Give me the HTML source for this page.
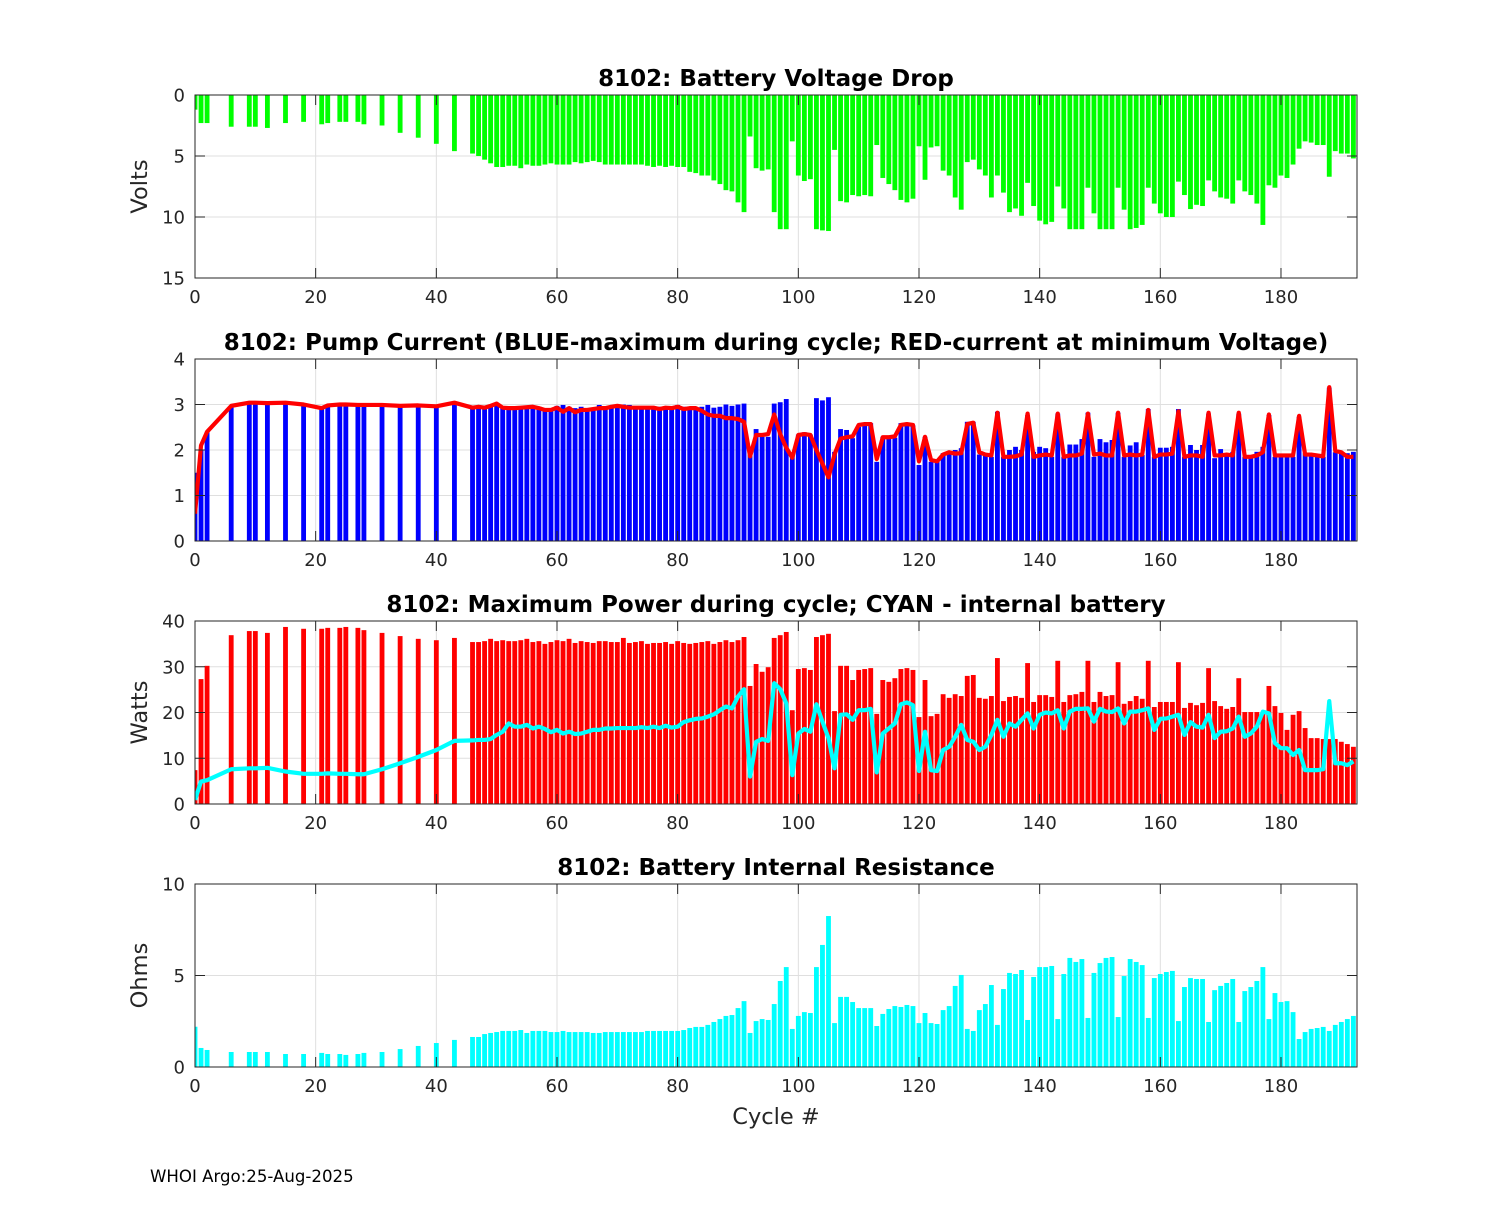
<!DOCTYPE html>
<html><head><meta charset="utf-8"><style>
body{margin:0;background:#fff}
svg text{font-family:"DejaVu Sans","Liberation Sans",sans-serif;fill:#262626}
</style></head><body>
<svg id="fig" width="1500" height="1200" xmlns="http://www.w3.org/2000/svg">
<rect width="1500" height="1200" fill="#fff"/>
<text x="150" y="1182" font-size="16.6" style="fill:#000">WHOI Argo:25-Aug-2025</text>
<text x="776" y="1124" font-size="22.5" text-anchor="middle">Cycle #</text>
</svg>
<script>
const cycles=[0,1,2,6,9,10,12,15,18,21,22,24,25,27,28,31,34,37,40,43,
46,47,48,49,50,51,52,53,54,55,56,57,58,59,60,61,62,63,64,65,66,67,68,69,70,71,72,73,74,75,76,77,78,79,80,81,82,83,84,85,86,87,88,89,90,91,
92,93,94,95,96,97,98,99,100,101,102,103,104,105,106,107,108,109,110,111,112,113,114,115,116,117,118,119,120,121,122,123,124,125,126,127,128,129,130,131,
132,133,134,135,136,137,138,139,140,141,142,143,144,145,146,147,148,149,150,151,152,153,154,155,156,157,158,159,160,161,162,163,164,165,166,167,168,169,170,171,
172,173,174,175,176,177,178,179,180,181,182,183,184,185,186,187,188,189,190,191,192];
const voltDrop=[1.2,2.3,2.3,2.6,2.6,2.6,2.7,2.3,2.2,2.4,2.3,2.2,2.2,2.2,2.4,2.5,3.1,3.5,4.0,4.6,
4.8,5.0,5.3,5.6,5.9,5.9,5.8,5.8,6.0,5.7,5.8,5.8,5.7,5.6,5.7,5.7,5.7,5.5,5.6,5.5,5.4,5.5,5.7,5.7,5.7,5.7,5.7,5.7,5.7,5.8,5.9,5.8,5.9,5.8,5.9,5.9,6.3,6.4,6.6,6.6,7.0,7.3,7.8,7.9,8.8,9.6,
3.4,6.0,6.2,6.1,9.6,11.0,11.0,3.8,6.6,7.05,6.9,11.0,11.1,11.15,4.5,8.7,8.8,8.2,8.3,8.2,8.3,4.1,6.8,7.3,7.8,8.6,8.8,8.5,4.2,6.95,4.3,4.2,6.2,6.6,8.4,9.4,5.5,5.3,6.1,6.6,
8.4,6.6,8.0,9.6,9.3,9.9,7.2,9.1,10.3,10.6,10.4,7.5,9.3,11.0,11.0,11.0,7.6,9.7,11.0,11.0,11.0,7.6,9.4,11.0,10.9,10.65,7.6,8.9,9.7,10.0,10.0,7.1,8.2,9.35,9.0,9.1,7.0,7.9,8.4,8.5,
8.9,7.0,7.9,8.2,8.9,10.65,7.4,7.6,6.6,6.8,5.7,4.4,3.8,3.9,4.1,4.1,6.7,4.6,4.8,4.8,5.2];
const maxCurrent=[1.5,2.0,2.4,2.95,3.06,3.06,3.03,3.05,3.0,2.92,2.99,3.0,2.99,3.0,3.0,3.0,2.98,2.98,2.95,3.03,
2.93,2.93,2.9,2.97,2.99,2.95,2.95,2.95,2.95,2.95,2.97,2.95,2.92,2.88,2.97,2.99,2.95,2.92,2.95,2.92,2.92,2.99,2.95,2.95,2.95,3.0,2.99,2.95,2.95,2.95,2.92,2.95,2.92,2.92,2.99,2.95,2.92,2.93,2.95,2.99,2.93,2.95,3.0,2.97,3.0,3.02,
1.9,2.46,2.29,2.29,3.02,3.05,3.12,1.9,2.34,2.39,2.34,3.14,3.09,3.16,1.96,2.46,2.44,2.26,2.51,2.55,2.59,1.74,2.29,2.27,2.27,2.59,2.55,2.54,1.67,2.29,1.74,1.74,1.93,1.96,2.0,2.04,2.62,2.62,1.9,1.89,
1.85,2.84,1.85,2.0,2.07,2.0,2.77,1.96,2.07,2.04,1.85,2.8,1.85,2.12,2.12,2.24,2.82,1.85,2.24,2.17,2.22,2.82,1.85,2.1,2.17,1.89,2.9,1.85,2.05,2.05,2.07,2.9,1.85,2.11,2.0,2.11,2.8,1.82,2.02,1.93,
1.96,2.8,1.85,1.89,1.96,2.07,2.77,1.85,1.85,1.85,1.85,2.73,1.93,1.89,1.9,1.85,3.37,1.95,1.95,1.93,1.96];
const minVCurrent=[0.6,2.1,2.4,2.97,3.04,3.04,3.03,3.04,3.0,2.92,2.98,3.0,3.0,2.99,2.99,2.99,2.97,2.98,2.96,3.04,
2.93,2.95,2.93,2.97,3.02,2.93,2.92,2.92,2.93,2.94,2.95,2.92,2.88,2.88,2.93,2.84,2.92,2.83,2.88,2.88,2.9,2.92,2.92,2.95,2.97,2.95,2.93,2.93,2.93,2.93,2.93,2.9,2.93,2.92,2.95,2.9,2.92,2.92,2.86,2.78,2.75,2.75,2.7,2.7,2.68,2.62,
1.86,2.33,2.33,2.35,2.78,2.35,2.05,1.83,2.33,2.35,2.33,2.0,1.7,1.4,1.9,2.25,2.28,2.3,2.55,2.57,2.57,1.8,2.28,2.28,2.3,2.55,2.57,2.55,1.75,2.29,1.78,1.75,1.9,1.95,1.92,1.93,2.57,2.6,1.95,1.9,
1.88,2.82,1.85,1.85,1.86,1.9,2.8,1.85,1.88,1.9,1.88,2.8,1.85,1.88,1.88,1.92,2.8,1.9,1.92,1.88,1.88,2.82,1.88,1.9,1.88,1.9,2.88,1.85,1.9,1.9,1.92,2.85,1.85,1.88,1.88,1.85,2.82,1.88,1.88,1.9,
1.88,2.82,1.85,1.85,1.88,1.95,2.78,1.88,1.88,1.88,1.88,2.75,1.9,1.9,1.88,1.86,3.38,1.98,1.95,1.85,1.85];
const maxPower=[7.4,27.3,30.2,36.9,37.8,37.8,37.4,38.7,38.3,38.3,38.5,38.5,38.7,38.5,38.0,37.4,36.7,36.1,35.8,36.3,
35.4,35.4,35.6,36.1,35.6,35.8,35.6,35.6,35.8,36.1,35.4,35.6,35.0,35.4,35.8,35.6,36.1,35.2,35.6,35.4,35.2,35.6,35.6,35.4,35.4,36.3,35.2,35.4,35.6,35.0,35.2,35.2,35.4,35.0,35.6,35.2,35.0,35.2,35.4,35.6,35.0,35.4,35.8,35.4,35.8,36.5,
25.8,30.6,28.9,29.9,36.3,36.9,37.6,20.5,29.5,29.7,29.3,36.5,36.9,37.2,20.3,30.2,30.2,27.1,29.3,29.5,29.7,19.7,27.1,26.7,27.5,29.5,29.7,29.3,19.0,27.1,19.2,19.7,24.0,23.2,24.0,23.6,28.0,28.2,23.2,23.0,
23.6,31.9,22.5,23.4,23.6,23.2,30.8,22.3,23.8,23.8,23.4,31.3,22.3,23.8,24.0,24.5,31.3,22.3,24.5,23.6,23.8,31.0,21.9,22.5,23.6,23.0,31.3,21.2,22.3,22.3,22.3,31.0,21.0,22.1,21.6,22.1,29.7,22.5,21.4,20.8,
21.2,27.5,20.1,20.1,20.1,20.1,25.8,21.4,19.9,16.2,19.5,20.3,16.6,14.4,14.4,14.2,14.2,14.2,13.6,13.1,12.5];
const internalPower=[0.9,4.9,5.2,7.6,7.8,7.8,7.9,7.1,6.6,6.6,6.7,6.6,6.6,6.5,6.5,7.6,8.9,10.3,11.8,13.8,
13.9,14.0,14.0,14.2,15.1,15.8,17.6,16.9,16.9,17.3,16.5,16.9,16.4,15.7,16.2,15.4,15.8,15.3,15.4,15.8,16.2,16.2,16.5,16.5,16.6,16.6,16.6,16.6,16.8,16.6,16.9,16.6,17.1,16.7,16.9,17.9,18.3,18.6,18.7,19.1,19.6,20.5,21.3,20.9,23.5,25.1,
6.0,13.6,14.2,13.8,26.4,25.1,22.0,6.3,15.4,16.4,15.8,21.8,18.0,14.4,7.8,19.5,19.6,18.4,20.5,20.5,20.8,6.9,15.4,16.5,17.6,21.8,22.2,21.6,7.2,15.8,7.4,7.2,11.8,12.5,14.7,17.3,14.0,13.6,11.8,12.5,
15.1,18.4,14.7,17.6,16.9,18.4,19.8,16.5,19.5,20.0,19.8,20.5,16.5,20.2,20.8,20.8,20.9,18.0,20.8,20.2,20.1,20.9,17.6,20.2,20.2,20.5,20.9,16.2,18.6,18.7,19.1,19.5,15.1,17.9,16.9,16.7,19.5,14.4,15.8,15.9,
16.5,19.1,14.7,15.4,16.9,20.2,19.8,13.3,12.2,12.2,10.7,11.8,7.4,7.4,7.4,7.6,22.5,8.9,8.9,8.5,9.3];
const resistance=[2.2,1.04,0.93,0.82,0.82,0.82,0.82,0.71,0.71,0.77,0.71,0.71,0.66,0.71,0.77,0.82,0.98,1.15,1.31,1.48,
1.64,1.64,1.8,1.86,1.91,1.97,1.97,1.97,2.02,1.86,1.97,1.97,1.97,1.91,1.91,1.97,1.91,1.91,1.91,1.91,1.86,1.86,1.91,1.91,1.91,1.91,1.91,1.91,1.91,1.97,1.97,1.97,1.97,1.97,1.97,2.02,2.13,2.19,2.19,2.3,2.46,2.62,2.79,2.84,3.22,3.6,
1.86,2.51,2.62,2.57,3.44,4.7,5.46,2.08,2.79,3.0,2.95,5.46,6.67,8.25,2.4,3.83,3.83,3.55,3.22,3.22,3.22,2.24,2.9,3.17,3.33,3.28,3.39,3.33,2.4,2.95,2.4,2.35,3.11,3.33,4.43,5.03,2.08,1.97,3.11,3.44,
4.48,2.3,4.26,5.14,5.08,5.3,2.57,4.92,5.46,5.46,5.52,2.62,5.08,5.96,5.74,5.9,2.68,5.14,5.68,5.96,6.01,2.73,4.97,5.9,5.74,5.57,2.68,4.86,5.08,5.19,5.25,2.51,4.37,4.86,4.81,4.81,2.46,4.2,4.43,4.59,
4.81,2.46,4.15,4.37,4.7,5.46,2.62,4.04,3.55,3.6,3.0,1.53,1.91,2.08,2.13,2.19,1.97,2.3,2.46,2.62,2.79];
const xTicks=[0,20,40,60,80,100,120,140,160,180];
const voltTicks=[0,5,10,15];
const currentTicks=[0,1,2,3,4];
const powerTicks=[0,10,20,30,40];
const ohmTicks=[0,5,10];

const NS="http://www.w3.org/2000/svg";
const svg=document.getElementById('fig');
const L=195,R=1357,XMAX=192.6;
function X(c){return L+c*(R-L)/XMAX;}
function mk(tag,attrs,parent){const e=document.createElementNS(NS,tag);for(const k in attrs)e.setAttribute(k,attrs[k]);(parent||svg).appendChild(e);return e;}

function panel(id,top,bot,ymin,ymax,rev,yTicks,title,ylabel){
  const g=mk('g',{});
  
  
  const Y=v=>{const f=(v-ymin)/(ymax-ymin);return rev?top+f*(bot-top):bot-f*(bot-top);};
  mk('rect',{x:L,y:top,width:R-L,height:bot-top,fill:'#fff'},g);
  const cp=mk('clipPath',{id:'cp-'+id},g);
  mk('rect',{x:L,y:top,width:R-L,height:bot-top},cp);
  xTicks.forEach(t=>{mk('line',{x1:X(t),x2:X(t),y1:top,y2:bot,stroke:'#dfdfdf','stroke-width':1},g);});
  yTicks.forEach(t=>{mk('line',{x1:L,x2:R,y1:Y(t),y2:Y(t),stroke:'#dfdfdf','stroke-width':1},g);});
  const plot=mk('g',{'clip-path':'url(#cp-'+id+')'},g);
  const fr=mk('g',{},g);
  xTicks.forEach(t=>{
    mk('line',{x1:X(t),x2:X(t),y1:bot,y2:bot-10,stroke:'#262626'},fr);
    mk('line',{x1:X(t),x2:X(t),y1:top,y2:top+10,stroke:'#262626'},fr);
    const tx=mk('text',{x:X(t),y:bot+25,'font-size':18,'text-anchor':'middle'},g);
    
    
    tx.textContent=t;
  });
  yTicks.forEach(t=>{
    mk('line',{x1:L,x2:L+10,y1:Y(t),y2:Y(t),stroke:'#262626'},fr);
    mk('line',{x1:R,x2:R-10,y1:Y(t),y2:Y(t),stroke:'#262626'},fr);
    const tx=mk('text',{x:L-10,y:Y(t)+6.5,'font-size':18,'text-anchor':'end'},g);
    
    
    tx.textContent=t;
  });
  const tt=mk('text',{x:776,y:top-9,'font-size':23,'font-weight':'bold','text-anchor':'middle'},g);
  
  
  tt.style.fill='#000';
  tt.textContent=title;
  const yl=mk('text',{x:0,y:0,'font-size':22.5,'text-anchor':'middle',transform:'translate(147,'+((top+bot)/2)+') rotate(-90)'},g);
  
  
  yl.textContent=ylabel;
  return {plot,Y,frame:()=>{mk('rect',{x:L,y:top,width:R-L,height:bot-top,fill:'none',stroke:'#262626','stroke-width':1},g);}};
}
function bars(p,vals,color,name){
  const w=0.8*(R-L)/XMAX;
  vals.forEach((v,i)=>{
    const y0=p.Y(0),y1=p.Y(v);
    const r=mk('rect',{x:X(cycles[i])-w/2,y:Math.min(y0,y1),width:w,height:Math.abs(y1-y0),fill:color},p.plot);
    
    
  });
}
function line(p,vals,color,name){
  const d=vals.map((v,i)=>(i?'L':'M')+X(cycles[i]).toFixed(2)+','+p.Y(v).toFixed(2)).join(' ');
  const pl=mk('path',{d:d,fill:'none',stroke:color,'stroke-width':4.2,'stroke-linejoin':'round'},p.plot);
  
  
}
const p1=panel('voltage',95,278,0,15,true,voltTicks,'8102: Battery Voltage Drop','Volts');
bars(p1,voltDrop,'#00ff00','voltage-drop');p1.frame();
const p2=panel('current',359,541,0,4,false,currentTicks,'8102: Pump Current (BLUE-maximum during cycle; RED-current at minimum Voltage)','');
bars(p2,maxCurrent,'#0000ff','max-current');line(p2,minVCurrent,'#ff0000','min-voltage-current-line');p2.frame();
const p3=panel('power',621,804,0,40,false,powerTicks,'8102: Maximum Power during cycle; CYAN - internal battery','Watts');
bars(p3,maxPower,'#ff0000','max-power');line(p3,internalPower,'#00ffff','internal-power-line');p3.frame();
const p4=panel('resistance',884,1067,0,10,false,ohmTicks,'8102: Battery Internal Resistance','Ohms');
bars(p4,resistance,'#00ffff','resistance');p4.frame();
</script>
</body></html>
